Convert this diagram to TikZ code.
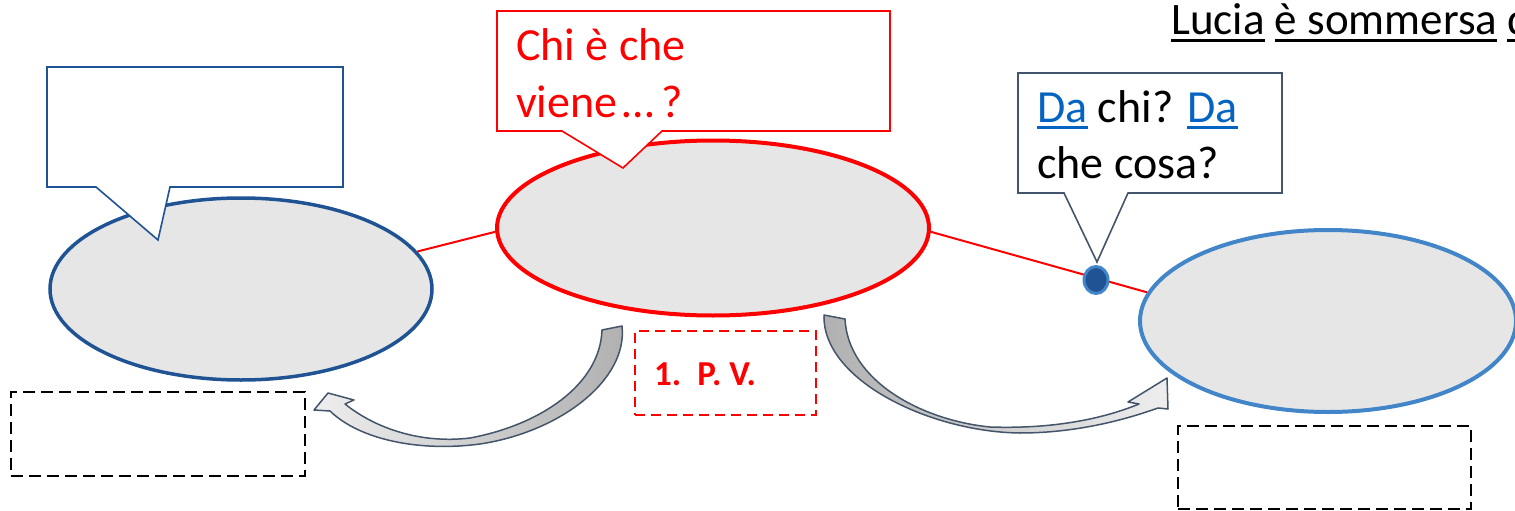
\documentclass[tikz,border=0pt]{standalone}
\usepackage{fontspec}
\setmainfont{Carlito}
\usetikzlibrary{shapes.geometric,backgrounds}
\definecolor{dblue}{RGB}{31,83,148}
\definecolor{lblue}{RGB}{66,133,200}
\definecolor{slate}{RGB}{68,84,106}
\definecolor{efill}{RGB}{230,230,230}
\definecolor{linkblue}{RGB}{5,99,193}
\definecolor{agray}{RGB}{176,176,176}
\definecolor{alight}{RGB}{238,238,238}
\newsavebox\ulbox
\newcommand\myul[2][black]{\sbox\ulbox{\textcolor{#1}{#2}}\rlap{\textcolor{#1}{\rule[-7pt]{\wd\ulbox}{3.2pt}}}\usebox\ulbox}
\begin{document}
\begin{tikzpicture}[x=1pt,y=-1pt,
  oval/.style={ellipse, draw, fill=efill, inner sep=0pt, line width=3.5pt},
  callout/.style={fill=white, line width=1.6pt, line join=miter},
  bigtext/.style={font=\fontsize{46}{56}\selectfont, anchor=base west, inner sep=0pt},
  dbox/.style={draw, dash pattern=on 12pt off 6pt, line width=1.8pt, anchor=north west, inner sep=0pt},
  link/.style={draw=red, line width=2pt},
  bendarrow/.style={draw=slate, line width=1.5pt, line join=round}]
\useasboundingbox (0,0) rectangle (1515,511);
\clip (0,0) rectangle (1515,511);

% ellipses
\node[oval, draw=dblue, minimum width=382pt, minimum height=182pt] (L) at (241,289) {};
\node[oval, draw=red, line width=4pt, minimum width=432pt, minimum height=175pt] (M) at (713,228) {};
\node[oval, draw=lblue, line width=4pt, minimum width=376pt, minimum height=182pt] (R) at (1328,321) {};

% red links behind the ellipses
\begin{pgfonlayer}{background}
\draw[link] (L.12) -- (M.181);
\draw[link] (M.-1) -- (R.171);
\end{pgfonlayer}

% dot on the link
\node[ellipse, fill=dblue, draw=lblue, line width=3pt, minimum width=24pt, minimum height=27pt, inner sep=0pt] (D) at (1096,280) {};

% callouts
\filldraw[callout, draw=dblue] (47,67) -- (343,67) -- (343,187) -- (170,187) -- (158,240) -- (96,187) -- (47,187) -- cycle;
\filldraw[callout, draw=red] (497,11) -- (890,11) -- (890,131) -- (662,131) -- (623,168) -- (562,131) -- (497,131) -- cycle;
\filldraw[callout, draw=slate] (1018,73) -- (1282,73) -- (1282,193) -- (1128,193) -- (1097,262) -- (1064,193) -- (1018,193) -- cycle;

% texts
\node[bigtext, text=red] (t1) at (516,61) {Chi è che};
\node[bigtext, text=red] (t2) at (516,117) {viene\kern5pt…\kern7pt?};
\node[bigtext] (t3) at (1037,122) {\myul[linkblue]{Da} chi? \myul[linkblue]{Da}};
\node[bigtext] (t4) at (1037,178) {che cosa?};
\node[bigtext, font=\fontsize{45}{54}\selectfont] (t5) at (1171,35) {\myul{Lucia} \myul{è sommersa} \myul{d}};

% dashed boxes
\node[dbox, minimum width=294pt, minimum height=84pt] (BL) at (10,391) {};
\node[dbox, minimum width=293pt, minimum height=83pt] (BR) at (1177,425) {};
\node[dbox, draw=red, dash pattern=on 10pt off 6pt, line width=1.5pt, minimum width=181pt, minimum height=84pt] (PV) at (634,330) {};
\node[font=\fontsize{35}{40}\selectfont\bfseries, text=red, anchor=base west, inner sep=0pt] (pvt) at (654,385) {1.\hspace{16pt}P. V.};

% curved block arrows
\draw[bendarrow, left color=alight, right color=agray]
  (602,330) .. controls (600,385) and (540,425) .. (470,438)
  .. controls (420,444) and (375,428) .. (345,404)
  -- (354,400) -- (328,393) -- (314,410) -- (330,411)
  .. controls (360,440) and (420,452) .. (480,444)
  .. controls (560,432) and (628,380) .. (622,326) -- cycle;
\draw[bendarrow, left color=agray, right color=alight]
  (824,315) .. controls (822,380) and (930,432) .. (1020,433)
  .. controls (1080,433) and (1130,418) .. (1158,408)
  -- (1168,409) -- (1167,378) -- (1128,402) -- (1139,404)
  .. controls (1100,420) and (1050,429) .. (990,427)
  .. controls (920,420) and (848,380) .. (845,319) -- cycle;
\end{tikzpicture}
\end{document}
